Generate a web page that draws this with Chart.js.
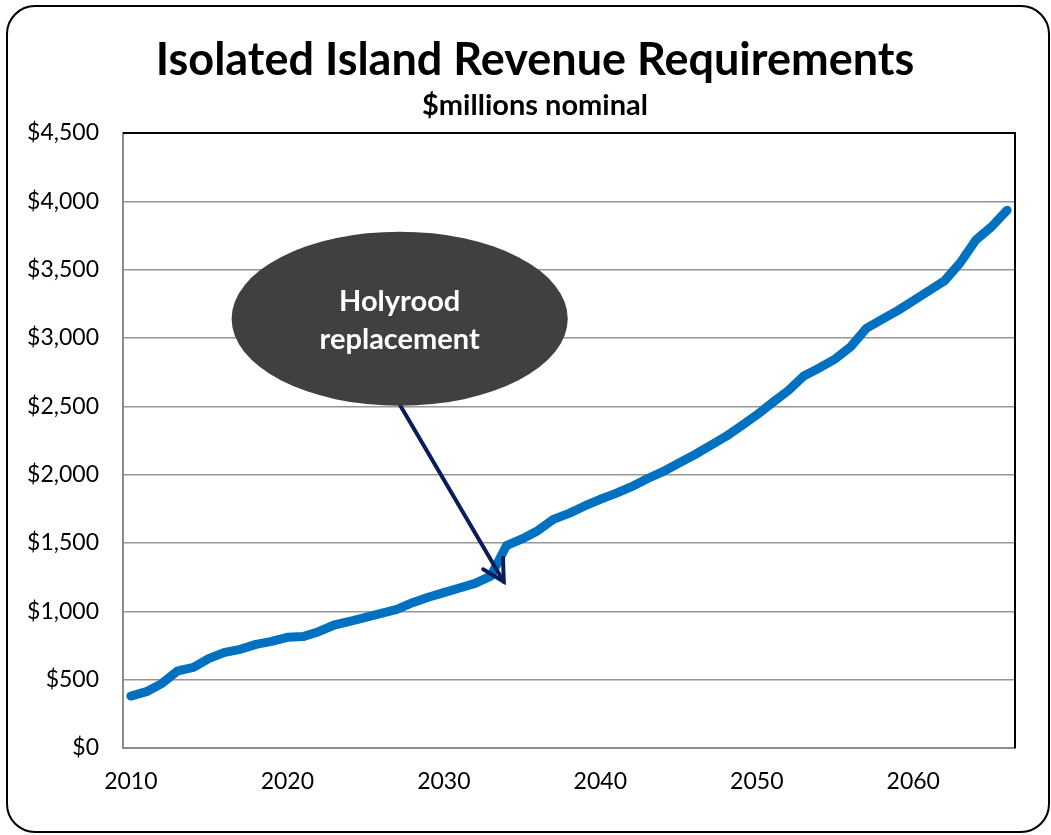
<!DOCTYPE html>
<html>
<head>
<meta charset="utf-8">
<title>Isolated Island Revenue Requirements</title>
<script src="https://cdn.jsdelivr.net/npm/chart.js@4/dist/chart.umd.min.js"></script>
<style>
  html, body { margin: 0; padding: 0; background: #fff; }
  canvas { display: block; }
</style>
</head>
<body>
<canvas id="chart" width="1051" height="835"></canvas>
<script>
// Years shown on the category axis
const years = [];
for (let y = 2010; y <= 2066; y++) years.push(String(y));

// Revenue requirements, $ millions nominal
const revenue = [
    380, 412, 473, 565, 590, 656, 700, 722, 758, 780,       // 2010-2019
    810, 815, 851, 900, 927, 956, 985, 1015, 1063, 1103,    // 2020-2029
    1137, 1171, 1205, 1258, 1480, 1530, 1590, 1673, 1717, 1771, // 2030-2039
    1820, 1863, 1912, 1970, 2022, 2083, 2144, 2210, 2278, 2356, // 2040-2049
    2437, 2527, 2614, 2722, 2781, 2846, 2936, 3071, 3137, 3200, // 2050-2059
    3273, 3346, 3419, 3551, 3717, 3814, 3935                  // 2060-2066
];

const titleText = "Isolated Island Revenue Requirements";
const subtitleText = "$millions nominal";
const calloutLines = ["Holyrood", "replacement"];

// Callout placement in data units (category index / $ millions)
const calloutCenter = { x: 17.18, y: 3141 };
const calloutRadius = { x: 10.74, y: 637 };
const arrowFrom = { x: 17.2, y: 2510 };
const arrowTo = { x: 23.83, y: 1217 };

// White page with a rounded frame, plus the titles
const framePlugin = {
    id: 'frame',
    beforeDraw(chart) {
        const ctx = chart.ctx;
        ctx.save();
        ctx.fillStyle = '#ffffff';
        ctx.fillRect(0, 0, chart.width, chart.height);
        ctx.beginPath();
        ctx.roundRect(7, 6, 1042, 826, 28);
        ctx.lineWidth = 2;
        ctx.strokeStyle = '#000000';
        ctx.stroke();

        ctx.fillStyle = '#000000';
        ctx.textAlign = 'center';
        ctx.textBaseline = 'alphabetic';
        ctx.font = 'bold 45px Lato';
        ctx.fillText(titleText, 535, 75);
        ctx.font = 'bold 29px Lato';
        ctx.fillText(subtitleText, 535, 115);
        ctx.restore();
    }
};

// Black plot border on top and right (axes are grey)
const plotBorderPlugin = {
    id: 'plotBorder',
    beforeDatasetsDraw(chart) {
        const { ctx, chartArea: a } = chart;
        ctx.save();
        ctx.beginPath();
        ctx.moveTo(a.left, a.top);
        ctx.lineTo(a.right, a.top);
        ctx.lineTo(a.right, a.bottom);
        ctx.lineWidth = 2;
        ctx.strokeStyle = '#000000';
        ctx.stroke();
        ctx.restore();
    }
};

// Ellipse callout with arrow
const calloutPlugin = {
    id: 'callout',
    afterDatasetsDraw(chart) {
        const ctx = chart.ctx;
        const xs = chart.scales.x, ys = chart.scales.y;
        const cx = xs.getPixelForValue(calloutCenter.x);
        const cy = ys.getPixelForValue(calloutCenter.y);
        const rx = xs.getPixelForValue(calloutCenter.x + calloutRadius.x) - cx;
        const ry = cy - ys.getPixelForValue(calloutCenter.y + calloutRadius.y);
        const x0 = xs.getPixelForValue(arrowFrom.x), y0 = ys.getPixelForValue(arrowFrom.y);
        const x1 = xs.getPixelForValue(arrowTo.x), y1 = ys.getPixelForValue(arrowTo.y);

        ctx.save();
        // arrow shaft
        ctx.strokeStyle = '#0a1d5a';
        ctx.lineWidth = 4;
        ctx.lineCap = 'round';
        ctx.lineJoin = 'miter';
        ctx.beginPath();
        ctx.moveTo(x0, y0);
        ctx.lineTo(x1, y1);
        ctx.stroke();
        // open arrow head
        const ang = Math.atan2(y1 - y0, x1 - x0);
        const len = 24, spread = 0.5;
        ctx.beginPath();
        ctx.moveTo(x1 - len * Math.cos(ang - spread), y1 - len * Math.sin(ang - spread));
        ctx.lineTo(x1, y1);
        ctx.lineTo(x1 - len * Math.cos(ang + spread), y1 - len * Math.sin(ang + spread));
        ctx.stroke();

        // ellipse
        ctx.beginPath();
        ctx.ellipse(cx, cy, rx, ry, 0, 0, Math.PI * 2);
        ctx.fillStyle = '#404040';
        ctx.fill();

        ctx.fillStyle = '#ffffff';
        ctx.font = 'bold 29px Lato';
        ctx.textAlign = 'center';
        ctx.textBaseline = 'alphabetic';
        ctx.fillText(calloutLines[0], cx, cy - 8);
        ctx.fillText(calloutLines[1], cx, cy + 30);
        ctx.restore();
    }
};

new Chart(document.getElementById('chart'), {
    type: 'line',
    data: {
        labels: years,
        datasets: [{
            label: 'Revenue requirements',
            data: revenue,
            borderColor: '#0070c0',
            borderWidth: 9,
            borderCapStyle: 'round',
            borderJoinStyle: 'round',
            pointRadius: 0,
            tension: 0,
            fill: false
        }]
    },
    options: {
        responsive: false,
        animation: false,
        layout: { padding: { top: 133, right: 36, left: 0, bottom: 0 } },
        plugins: {
            legend: { display: false },
            title: { display: false },
            tooltip: { enabled: false }
        },
        scales: {
            x: {
                type: 'category',
                offset: true,
                grid: { display: false, drawTicks: false },
                border: { color: '#8c8c8c', width: 2 },
                ticks: {
                    autoSkip: false,
                    maxRotation: 0,
                    padding: 20,
                    color: '#000000',
                    font: { family: 'Lato', size: 23 },
                    callback: (v, i) => (Number(years[i]) % 10 === 0 ? years[i] : null)
                },
                afterFit: (s) => { s.height = 87; }
            },
            y: {
                min: 0,
                max: 4500,
                grid: { color: '#969696', lineWidth: 1.5, drawTicks: false },
                border: { color: '#8c8c8c', width: 2 },
                ticks: {
                    stepSize: 500,
                    padding: 24,
                    color: '#000000',
                    font: { family: 'Lato', size: 23 },
                    callback: (v) => '$' + Number(v).toLocaleString('en-US')
                },
                afterFit: (s) => { s.width = 123; }
            }
        }
    },
    plugins: [framePlugin, plotBorderPlugin, calloutPlugin]
});
</script>
</body>
</html>
